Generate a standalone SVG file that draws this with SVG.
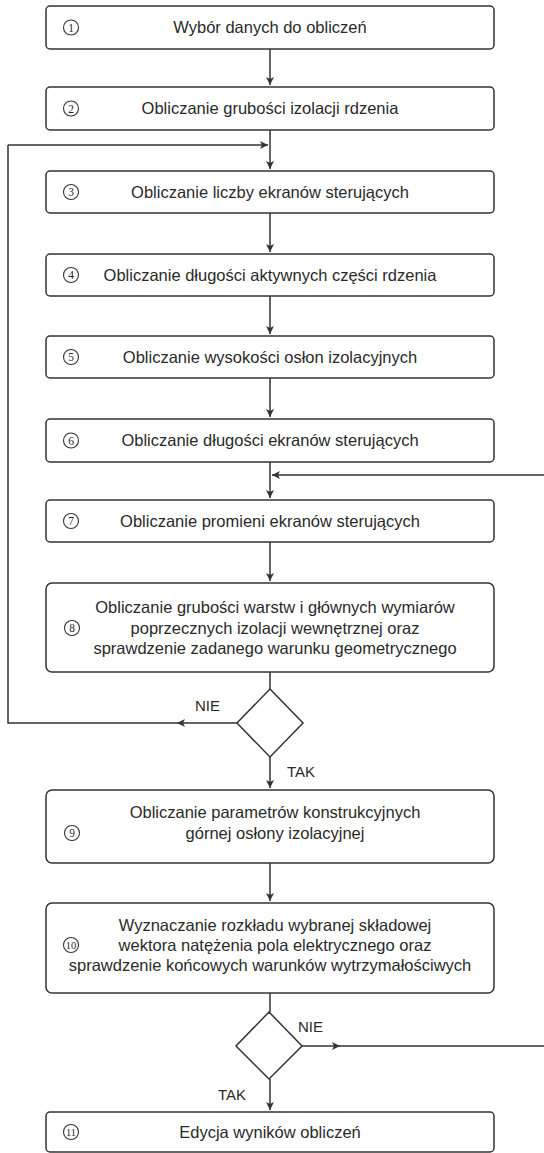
<svg xmlns="http://www.w3.org/2000/svg" width="544" height="1153" viewBox="0 0 544 1153">
<defs>
<style>
.box{fill:#fff;stroke:#333;stroke-width:1.5}
.t{font-family:"Liberation Sans",Arial,sans-serif;font-size:16.5px;fill:#2a2a2a;text-anchor:middle}
.n{font-family:"Liberation Serif","Times New Roman",serif;font-size:11.5px;fill:#2a2a2a;text-anchor:middle}
.c{fill:none;stroke:#333;stroke-width:1.1}
.l{fill:none;stroke:#333;stroke-width:1.5}
.lab{font-family:"Liberation Sans",Arial,sans-serif;font-size:15px;fill:#2a2a2a}
</style>
<marker id="ah" viewBox="0 0 10 10" refX="10" refY="5" markerWidth="8" markerHeight="8" markerUnits="userSpaceOnUse" orient="auto">
<path d="M0,0 L10,5 L0,10 L2.5,5 Z" fill="#333"/>
</marker>
</defs>
<rect width="544" height="1153" fill="#fff"/>
<g id="connectors">
<path class="l" d="M270,49 V85" marker-end="url(#ah)"/>
<path class="l" d="M270,130 V169" marker-end="url(#ah)"/>
<path class="l" d="M8,145 H268" marker-end="url(#ah)"/>
<path class="l" d="M270,213 V252" marker-end="url(#ah)"/>
<path class="l" d="M270,296 V334" marker-end="url(#ah)"/>
<path class="l" d="M270,378 V417" marker-end="url(#ah)"/>
<path class="l" d="M270,462 V498" marker-end="url(#ah)"/>
<path class="l" d="M544,475 H272" marker-end="url(#ah)"/>
<path class="l" d="M270,542 V581" marker-end="url(#ah)"/>
<path class="l" d="M270,672 V689"/>
<path class="l" d="M237,723 H177" marker-end="url(#ah)"/>
<path class="l" d="M177,723 H8 V145"/>
<path class="l" d="M270,757 V788" marker-end="url(#ah)"/>
<path class="l" d="M270,863 V901" marker-end="url(#ah)"/>
<path class="l" d="M270,993 V1012"/>
<path class="l" d="M301,1046 H340" marker-end="url(#ah)"/>
<path class="l" d="M340,1046 H544"/>
<path class="l" d="M270,1079 V1110" marker-end="url(#ah)"/>
</g>
<g id="n1"><rect class="box" x="46" y="6" width="448" height="43" rx="4"/><circle class="c" cx="71" cy="27.5" r="7.5"/><text class="n" x="71" y="31.5">1</text><text class="t" x="270" y="33">Wybór danych do obliczeń</text></g>
<g id="n2"><rect class="box" x="46" y="87" width="448" height="43" rx="4"/><circle class="c" cx="71" cy="108.5" r="7.5"/><text class="n" x="71" y="112.5">2</text><text class="t" x="270" y="114">Obliczanie grubości izolacji rdzenia</text></g>
<g id="n3"><rect class="box" x="46" y="171" width="448" height="42" rx="4"/><circle class="c" cx="71" cy="192" r="7.5"/><text class="n" x="71" y="196">3</text><text class="t" x="270" y="198">Obliczanie liczby ekranów sterujących</text></g>
<g id="n4"><rect class="box" x="46" y="254" width="448" height="42" rx="4"/><circle class="c" cx="71" cy="275" r="7.5"/><text class="n" x="71" y="279">4</text><text class="t" x="270" y="281">Obliczanie długości aktywnych części rdzenia</text></g>
<g id="n5"><rect class="box" x="46" y="336" width="448" height="42" rx="4"/><circle class="c" cx="71" cy="357" r="7.5"/><text class="n" x="71" y="361">5</text><text class="t" x="270" y="363">Obliczanie wysokości osłon izolacyjnych</text></g>
<g id="n6"><rect class="box" x="46" y="419" width="448" height="43" rx="4"/><circle class="c" cx="71" cy="440.5" r="7.5"/><text class="n" x="71" y="444.5">6</text><text class="t" x="270" y="446">Obliczanie długości ekranów sterujących</text></g>
<g id="n7"><rect class="box" x="46" y="500" width="448" height="42" rx="4"/><circle class="c" cx="71" cy="521" r="7.5"/><text class="n" x="71" y="525">7</text><text class="t" x="270" y="527">Obliczanie promieni ekranów sterujących</text></g>
<g id="n8"><rect class="box" x="46" y="583" width="448" height="89" rx="6"/><circle class="c" cx="72" cy="628" r="7.5"/><text class="n" x="72" y="632">8</text><text class="t" x="275" y="613">Obliczanie grubości warstw i głównych wymiarów</text><text class="t" x="275" y="634">poprzecznych izolacji wewnętrznej oraz</text><text class="t" x="275" y="654">sprawdzenie zadanego warunku geometrycznego</text></g>
<g id="d1"><path class="box" d="M270,689 L303,723 L270,757 L237,723 Z"/><text class="lab" x="195" y="711">NIE</text><text class="lab" x="287" y="777">TAK</text></g>
<g id="n9"><rect class="box" x="46" y="790" width="448" height="73" rx="6"/><circle class="c" cx="72" cy="833" r="7.5"/><text class="n" x="72" y="837">9</text><text class="t" x="275" y="818">Obliczanie parametrów konstrukcyjnych</text><text class="t" x="275" y="839">górnej osłony izolacyjnej</text></g>
<g id="n10"><rect class="box" x="46" y="903" width="448" height="90" rx="6"/><circle class="c" cx="71" cy="945" r="7.5"/><text class="n" x="71" y="949" style="font-size:10.5px">10</text><text class="t" x="275" y="931">Wyznaczanie rozkładu wybranej składowej</text><text class="t" x="275" y="951">wektora natężenia pola elektrycznego oraz</text><text class="t" x="270" y="971">sprawdzenie końcowych warunków wytrzymałościwych</text></g>
<g id="d2"><path class="box" d="M269,1012 L302,1046 L269,1079 L236,1046 Z"/><text class="lab" x="298" y="1032">NIE</text><text class="lab" x="218" y="1100">TAK</text></g>
<g id="n11"><rect class="box" x="46" y="1112" width="448" height="40" rx="4"/><circle class="c" cx="71" cy="1132" r="7.5"/><text class="n" x="71" y="1136" style="font-size:10.5px">11</text><text class="t" x="270" y="1138">Edycja wyników obliczeń</text></g>
</svg>
